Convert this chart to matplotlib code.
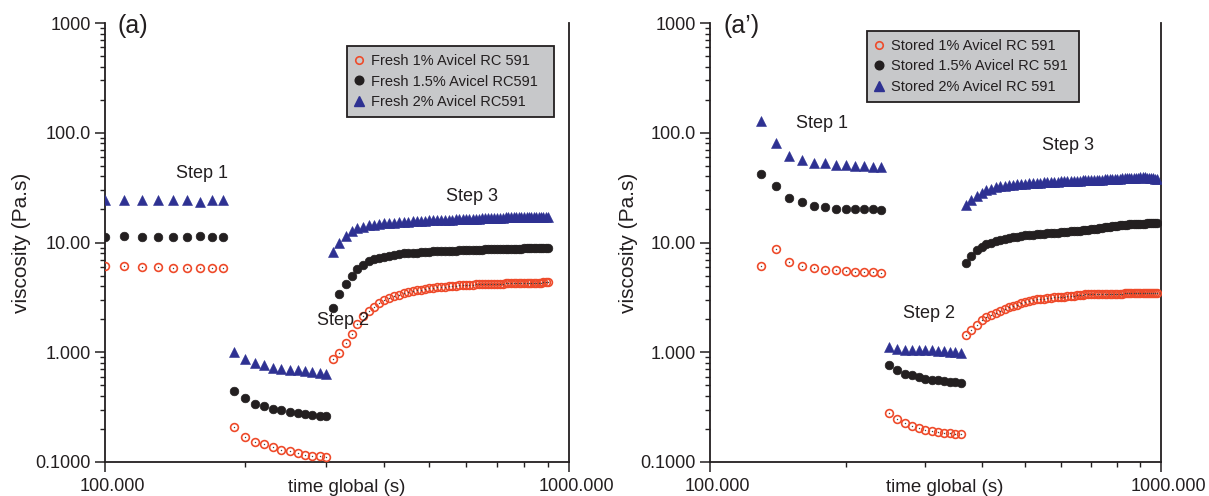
import numpy as np
import matplotlib
matplotlib.use("Agg")
import matplotlib.pyplot as plt
from matplotlib.ticker import LogLocator, NullFormatter, FixedLocator, FixedFormatter
from matplotlib.lines import Line2D
from matplotlib.transforms import ScaledTranslation

plt.rcParams['font.family'] = ['Liberation Sans', 'DejaVu Sans']

# ---------------- data: fresh dispersions (panel a) ----------------
fresh_time = [100, 110, 120, 130, 140, 150, 160, 170, 180,
              190, 200, 210, 220, 230, 240, 250, 260, 270, 280, 290, 300,
              310, 320, 330, 340, 350, 360, 370, 380, 390, 400,
              410, 420, 430, 440, 450, 460, 470, 480, 490, 500,
              510, 520, 530, 540, 550, 560, 570, 580, 590, 600,
              610, 620, 630, 640, 650, 660, 670, 680, 690, 700,
              710, 720, 730, 740, 750, 760, 770, 780, 790, 800,
              810, 820, 830, 840, 850, 860, 870, 880, 890, 900]

fresh_1pct = [6.1, 6.1, 5.95, 5.95, 5.8, 5.8, 5.8, 5.8, 5.8,
              0.207, 0.170, 0.152, 0.145, 0.137, 0.129, 0.125, 0.120, 0.116, 0.114, 0.1135, 0.110,
              0.86, 0.99, 1.22, 1.48, 1.80, 2.12, 2.38, 2.60, 2.82, 3.00,
              3.10, 3.23, 3.35, 3.45, 3.52, 3.60, 3.67, 3.73, 3.78, 3.83,
              3.87, 3.91, 3.94, 3.97, 4.00, 4.03, 4.05, 4.07, 4.09, 4.11,
              4.12, 4.14, 4.15, 4.16, 4.17, 4.18, 4.19, 4.20, 4.21, 4.22,
              4.22, 4.23, 4.24, 4.25, 4.26, 4.26, 4.27, 4.28, 4.28, 4.29,
              4.29, 4.30, 4.30, 4.31, 4.31, 4.32, 4.32, 4.33, 4.33, 4.34]

fresh_15pct = [11.2, 11.5, 11.2, 11.2, 11.2, 11.2, 11.5, 11.2, 11.2,
               0.44, 0.383, 0.340, 0.324, 0.306, 0.296, 0.286, 0.280, 0.276, 0.268, 0.265, 0.261,
               2.55, 3.4, 4.2, 5.0, 5.7, 6.3, 6.75, 7.05, 7.3, 7.45,
               7.6, 7.7, 7.85, 7.95, 8.0, 8.05, 8.1, 8.2, 8.2, 8.25,
               8.3, 8.3, 8.35, 8.4, 8.4, 8.45, 8.45, 8.5, 8.5, 8.5,
               8.55, 8.55, 8.6, 8.6, 8.6, 8.65, 8.65, 8.65, 8.7, 8.7,
               8.7, 8.7, 8.75, 8.75, 8.75, 8.8, 8.8, 8.8, 8.8, 8.85,
               8.85, 8.85, 8.9, 8.9, 8.9, 8.9, 8.95, 8.95, 8.95, 9.0]

fresh_2pct = [24.5, 24.2, 24.2, 24.2, 24.2, 24.2, 23.6, 24.2, 24.2,
              1.00, 0.875, 0.80, 0.76, 0.72, 0.71, 0.695, 0.685, 0.67, 0.66, 0.65, 0.63,
              8.2, 10.0, 11.4, 12.8, 13.5, 13.9, 14.3, 14.5, 14.7, 14.9,
              15.0, 15.2, 15.3, 15.4, 15.5, 15.6, 15.7, 15.8, 15.8, 15.9,
              15.9, 16.0, 16.0, 16.1, 16.2, 16.2, 16.3, 16.3, 16.3, 16.4,
              16.4, 16.5, 16.5, 16.5, 16.6, 16.6, 16.7, 16.7, 16.8, 16.8,
              16.8, 16.8, 16.9, 16.9, 16.9, 16.9, 16.9, 17.0, 17.0, 17.0,
              17.0, 17.0, 17.1, 17.1, 17.1, 17.1, 17.1, 17.1, 17.1, 17.1]

# ---------------- data: stored dispersions (panel a') ----------------
stored_time = [130, 140, 150, 160, 170, 180, 190, 200, 210, 220, 230, 240,
               250, 260, 270, 280, 290, 300, 310, 320, 330, 340, 350, 360,
               370, 380, 390, 400, 410, 420, 430, 440, 450, 460,
               470, 480, 490, 500, 510, 520, 530, 540, 550, 560,
               570, 580, 590, 600, 610, 620, 630, 640, 650, 660,
               670, 680, 690, 700, 710, 720, 730, 740, 750, 760,
               770, 780, 790, 800, 810, 820, 830, 840, 850, 860,
               870, 880, 890, 900, 910, 920, 930, 940, 950, 960,
               970, 980]

stored_1pct = [6.1, 8.8, 6.7, 6.1, 5.9, 5.6, 5.6, 5.45, 5.4, 5.4, 5.4, 5.3,
               0.282, 0.248, 0.227, 0.213, 0.204, 0.197, 0.192, 0.189, 0.185, 0.182, 0.181, 0.179,
               1.45, 1.60, 1.78, 1.95, 2.08, 2.17, 2.27, 2.38, 2.48, 2.56,
               2.64, 2.72, 2.80, 2.88, 2.94, 2.99, 3.03, 3.06, 3.08, 3.10,
               3.13, 3.16, 3.18, 3.20, 3.22, 3.24, 3.26, 3.28, 3.30, 3.32,
               3.34, 3.36, 3.37, 3.38, 3.39, 3.40, 3.40, 3.41, 3.42, 3.42,
               3.42, 3.42, 3.43, 3.43, 3.43, 3.43, 3.44, 3.44, 3.44, 3.44,
               3.44, 3.44, 3.45, 3.45, 3.45, 3.45, 3.45, 3.45, 3.45, 3.45,
               3.45, 3.45]

stored_15pct = [42.5, 33.0, 25.5, 23.5, 21.5, 21.0, 20.3, 20.3, 20.3, 20.3, 20.3, 19.9,
                0.77, 0.694, 0.638, 0.616, 0.595, 0.574, 0.562, 0.554, 0.547, 0.539, 0.532, 0.525,
                6.55, 7.5, 8.5, 9.15, 9.6, 10.0, 10.3, 10.6, 10.8, 11.0,
                11.15, 11.3, 11.45, 11.6, 11.7, 11.8, 11.9, 12.0, 12.0, 12.1,
                12.2, 12.2, 12.3, 12.4, 12.45, 12.5, 12.6, 12.7, 12.75, 12.85,
                12.9, 13.0, 13.1, 13.2, 13.3, 13.4, 13.5, 13.6, 13.7, 13.8,
                13.9, 14.0, 14.1, 14.2, 14.3, 14.4, 14.5, 14.55, 14.6, 14.65,
                14.7, 14.75, 14.8, 14.8, 14.85, 14.85, 14.9, 14.9, 14.9, 14.9,
                14.9, 14.9]

stored_2pct = [128, 81, 62, 56, 53.5, 52.5, 51, 51, 50, 50, 49, 49,
               1.12, 1.06, 1.04, 1.04, 1.04, 1.04, 1.04, 1.03, 1.03, 1.01, 1.01, 0.98,
               21.8, 24.5, 26.8, 28.5, 29.9, 31.0, 31.8, 32.4, 32.9, 33.3,
               33.6, 33.9, 34.1, 34.3, 34.5, 34.7, 34.9, 35.1, 35.3, 35.5,
               35.6, 35.8, 35.9, 36.0, 36.2, 36.3, 36.4, 36.5, 36.6, 36.7,
               36.8, 36.9, 37.0, 37.1, 37.2, 37.3, 37.4, 37.5, 37.6, 37.7,
               37.8, 37.9, 38.0, 38.1, 38.2, 38.3, 38.4, 38.5, 38.6, 38.7,
               38.8, 38.9, 39.0, 39.2, 39.3, 39.2, 39.0, 38.8, 38.6, 38.4,
               38.2, 38.0]

fresh_labels = ["Fresh 1% Avicel RC 591", "Fresh 1.5% Avicel RC591", "Fresh 2% Avicel RC591"]
stored_labels = ["Stored 1% Avicel RC 591", "Stored 1.5% Avicel RC 591", "Stored 2% Avicel RC 591"]

x_ticks = [100, 1000]
x_ticklabels = ["100.000", "1000.000"]
y_ticks = [0.1, 1, 10, 100, 1000]
y_ticklabels = ["0.1000", "1.000", "10.00", "100.0", "1000"]

# ---------------- styling ----------------
RED = '#EE4B2B'
BLACK = '#231F20'
BLUE = '#2E3192'
INK = '#231F20'

fig = plt.figure(figsize=(12.09, 4.96), dpi=100)
W, H = 1209, 496
axL = fig.add_axes([105 / W, 34 / H, 464 / W, 439 / H])
axR = fig.add_axes([710 / W, 34 / H, 451 / W, 439 / H])


def draw_panel(ax, t, s1, s15, s2, labels, tag, steps, leg_box):
    ax.set_xscale('log')
    ax.set_yscale('log')
    ax.plot(t, s1, linestyle='none', marker='o', ms=5.6, mfc='none',
            mec=RED, mew=1.2, zorder=3)
    ax.plot(t, s1, linestyle='none', marker='o', ms=1.0, mfc='#444444',
            mec='none', zorder=3.1)
    ax.plot(t, s15, linestyle='none', marker='o', ms=6.2, mfc=BLACK,
            mec=BLACK, mew=0.5, zorder=4)
    ax.plot(t, s2, linestyle='none', marker='^', ms=6.8, mfc=BLUE,
            mec=BLUE, mew=0.4, zorder=5)

    ax.set_xlim(100, 1000)
    ax.set_ylim(0.1, 1000)

    ax.xaxis.set_major_locator(FixedLocator(x_ticks))
    ax.xaxis.set_major_formatter(FixedFormatter(x_ticklabels))
    ax.xaxis.set_minor_locator(LogLocator(base=10, subs=np.arange(2, 10), numticks=20))
    ax.xaxis.set_minor_formatter(NullFormatter())
    ax.yaxis.set_major_locator(FixedLocator(y_ticks))
    ax.yaxis.set_major_formatter(FixedFormatter(y_ticklabels))
    ax.yaxis.set_minor_locator(LogLocator(base=10, subs=np.arange(2, 10), numticks=20))
    ax.yaxis.set_minor_formatter(NullFormatter())

    ax.tick_params(which='major', direction='out', length=7, width=1.1,
                   color=INK, labelsize=13, labelcolor=INK)
    ax.tick_params(axis='x', which='major', pad=4.5)
    ax.tick_params(axis='y', which='major', pad=3)
    ax.tick_params(which='minor', direction='out', length=3.5, width=1.0, color=INK)
    ax.tick_params(right=False, top=False, which='both')

    # x tick labels sit a little to the right of their ticks
    shift = ScaledTranslation(7 / 100, 0, fig.dpi_scale_trans)
    for lab in ax.get_xticklabels():
        lab.set_transform(lab.get_transform() + shift)

    ax.spines['top'].set_visible(False)
    for side in ('left', 'bottom', 'right'):
        ax.spines[side].set_linewidth(1.3)
        ax.spines[side].set_color(INK)

    ax.set_xlabel("time global (s)", fontsize=13.5, color=INK)
    ax.xaxis.set_label_coords(0.52, -0.038)
    ax.set_ylabel("viscosity (Pa.s)", fontsize=15, color=INK)
    ax.yaxis.set_label_coords(-0.16, 0.5)

    ax.text(tag[1], 1.02, tag[0], transform=ax.transAxes, fontsize=18,
            color=INK, ha='left', va='top')
    for txt, x, y in steps:
        ax.text(x, y, txt, transform=ax.transAxes, fontsize=13, color=INK,
                ha='center', va='center', zorder=6)

    handles = [
        Line2D([], [], linestyle='none', marker='o', ms=5.4, mfc='none', mec=RED, mew=1.2),
        Line2D([], [], linestyle='none', marker='o', ms=6.2, mfc=BLACK, mec=BLACK),
        Line2D([], [], linestyle='none', marker='^', ms=6.6, mfc=BLUE, mec=BLUE),
    ]
    x0, top, w = leg_box
    leg = ax.legend(handles, labels, loc='upper left',
                    bbox_to_anchor=(x0, top - 0.3, w, 0.3), mode='expand',
                    borderaxespad=0, fontsize=10.5, frameon=True, fancybox=False,
                    framealpha=1, facecolor='#C7C8CA', edgecolor=INK,
                    handlelength=0.6, handletextpad=0.5, borderpad=0.55,
                    labelspacing=0.45)
    leg.get_frame().set_linewidth(1.3)
    for txt in leg.get_texts():
        txt.set_color(INK)


draw_panel(axL, fresh_time, fresh_1pct, fresh_15pct, fresh_2pct, fresh_labels,
           ("(a)", 0.028),
           [("Step 1", 0.209, 0.658), ("Step 2", 0.513, 0.323), ("Step 3", 0.791, 0.604)],
           (0.5216, 0.9476, 0.446))
draw_panel(axR, stored_time, stored_1pct, stored_15pct, stored_2pct, stored_labels,
           ("(a\u2019)", 0.031),
           [("Step 1", 0.248, 0.772), ("Step 2", 0.486, 0.339), ("Step 3", 0.794, 0.720)],
           (0.348, 0.982, 0.470))

fig.savefig("out.png", dpi=100)
